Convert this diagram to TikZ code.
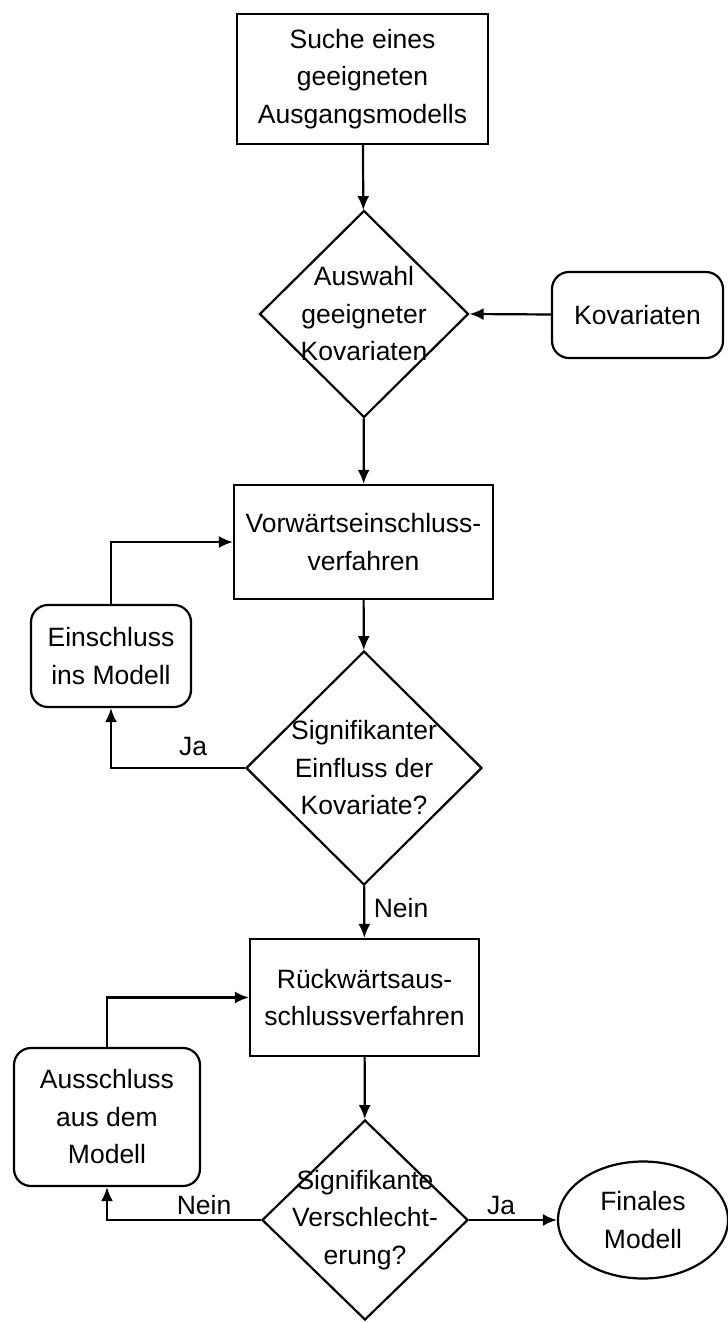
\documentclass[tikz,border=0pt]{standalone}
\usepackage{fontspec}
\setmainfont{Liberation Sans}
\usetikzlibrary{shapes.geometric,arrows.meta}
\tikzset{
    txt/.style={align=center, font=\fontsize{26.5}{37.5}\selectfont, inner sep=0pt},
    procbox/.style={txt, draw, rectangle, minimum width=#1},
    roundbox/.style={txt, draw, rectangle, rounded corners=17pt, minimum width=#1},
    decision/.style={draw, diamond, inner sep=0pt},
    arr/.style={-{Latex[length=14pt,width=12pt]}}
}
\begin{document}
\begin{tikzpicture}[x=1pt, y=-1pt, line width=2.2pt]
        \useasboundingbox (0, 0) rectangle (728, 1323);
        \node[procbox=251pt, minimum height=130pt] (suche) at (362.5, 79) {Suche eines\\geeigneten\\Ausgangsmodells};
        \node[decision, minimum width=209pt, minimum height=207pt] (auswahl) at (364, 314) {};
        \node[txt] (auswahltxt) at (auswahl) {Auswahl\\geeigneter\\Kovariaten};
        \node[roundbox=171pt, minimum height=86pt] (kov) at (637.5, 315) {Kovariaten};
        \node[procbox=259pt, minimum height=114pt] (vor) at (363.5, 542) {Vorwärtseinschluss-\\verfahren};
        \node[roundbox=160pt, minimum height=102pt] (ein) at (111, 656) {Einschluss\\ins Modell};
        \node[decision, minimum width=236pt, minimum height=234pt] (sig1) at (364, 768) {};
        \node[txt] (sig1txt) at (sig1) {Signifikanter\\Einfluss der\\Kovariate?};
        \node[procbox=229pt, minimum height=117pt] (rueck) at (364.5, 997.5) {Rückwärtsaus-\\schlussverfahren};
        \node[roundbox=186pt, minimum height=138pt] (aus) at (107, 1117) {Ausschluss\\aus dem\\Modell};
        \node[decision, minimum width=206pt, minimum height=200pt] (sig2) at (365, 1220) {};
        \node[txt] (sig2txt) at (sig2) {Signifikante\\Verschlecht-\\erung?};
        \node[txt, draw, ellipse, minimum width=170pt, minimum height=117pt] (final) at (643, 1220) {Finales\\Modell};

        \draw[arr] (suche) -- (auswahl);
        \draw[arr] (kov) -- (auswahl.east);
        \draw[arr] (auswahl) -- (vor);
        \draw[arr] (vor) -- (sig1);
        \draw[arr] (sig1.west) -| (ein.south);
        \draw[arr] (ein.north) |- (vor.west);
        \draw[arr] (sig1) -- (rueck);
        \draw[arr] (rueck) -- (sig2);
        \draw[arr] (sig2.west) -| (aus.south);
        \draw[arr] (aus.north) |- (rueck.west);
        \draw[arr] (sig2.east) -- (final.west);

        \node[txt] (ja1) at (193, 747) {Ja};
        \node[txt] (nein1) at (401, 908) {Nein};
        \node[txt] (nein2) at (204, 1205) {Nein};
        \node[txt] (ja2) at (501, 1205) {Ja};
    \end{tikzpicture}
\end{document}
